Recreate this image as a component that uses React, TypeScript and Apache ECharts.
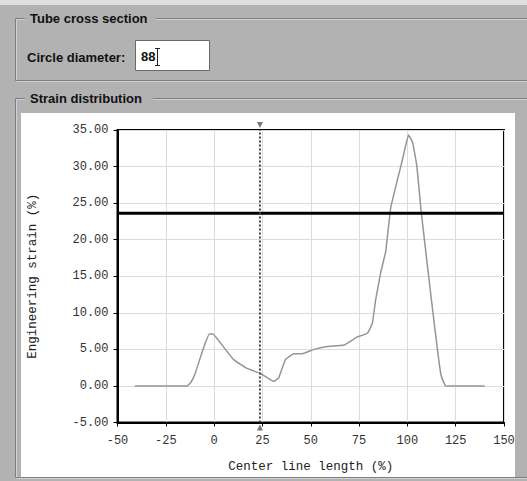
import React, { useEffect, useRef } from "react";
import * as echarts from "echarts";

const strainX = [-41, -14, -12, -9.8, -5.5, -2.4, -0.6, 3.2, 10.1, 17, 24, 30.8, 33.4, 36.9, 41.2, 45.6, 51.6, 58.6, 67.2, 74.1, 79.3, 81.9, 83.6, 86.2, 88.8, 91.4, 97.5, 100.6, 102.7, 104.9, 107, 109.6, 112.2, 115.6, 117.4, 119.9, 140];
const strainY = [0, 0, 0.5, 1.7, 5.2, 7.1, 7.1, 5.9, 3.6, 2.4, 1.7, 0.6, 1.1, 3.6, 4.4, 4.4, 5.0, 5.4, 5.6, 6.7, 7.2, 8.6, 11.8, 15.5, 18.4, 24.4, 31.0, 34.3, 33.3, 30.1, 24.2, 18.2, 12.3, 4.9, 1.5, 0, 0];
const thresholdX = [-50, 150];
const thresholdY = [23.6, 23.6];
const cursorX = [23.7, 23.7];
const cursorY = [-5, 35];
const xTicks = [-50, -25, 0, 25, 50, 75, 100, 125, 150];
const yTicks = [-5, 0, 5, 10, 15, 20, 25, 30, 35];

const MONO = "'Liberation Mono', 'DejaVu Sans Mono', monospace";
const SANS = "'Liberation Sans', 'DejaVu Sans', Arial, sans-serif";
const BG = "#b2b2b2";

export default function App() {
  const ref = useRef<HTMLDivElement>(null);
  useEffect(() => {
    document.body.style.margin = "0";
    const chart = echarts.init(ref.current!, null, { renderer: "svg" });
    const titleStyle = { fontFamily: SANS, fontWeight: "bold", fontSize: 13, fill: "#111" };
    chart.setOption({
      animation: false,
      graphic: [
        { type: "rect", z: -10, shape: { x: 0, y: 0, width: 527, height: 481 }, style: { fill: BG } },
        { type: "rect", z: -9, shape: { x: 0, y: 0, width: 527, height: 5 }, style: { fill: "#dedede" } },
        // tube cross section frame
        { type: "rect", z: -8, shape: { x: 16.5, y: 19.5, width: 530, height: 62 }, style: { fill: null, stroke: "#d2d2d2", lineWidth: 1 } },
        { type: "rect", z: -8, shape: { x: 15.5, y: 18.5, width: 530, height: 62 }, style: { fill: null, stroke: "#7e7e7e", lineWidth: 1 } },
        { type: "rect", z: -7, shape: { x: 25, y: 10, width: 131, height: 16 }, style: { fill: BG } },
        { type: "text", z: -6, style: { ...titleStyle, text: "Tube cross section", x: 30, y: 18, verticalAlign: "middle" } },
        { type: "text", z: -6, style: { ...titleStyle, text: "Circle diameter:", x: 27, y: 57, verticalAlign: "middle" } },
        { type: "rect", z: -6, shape: { x: 135.5, y: 40.5, width: 74, height: 30 }, style: { fill: "#ffffff", stroke: "#6a6a6a", lineWidth: 1 } },
        { type: "text", z: -5, style: { ...titleStyle, text: "88", x: 141, y: 56, verticalAlign: "middle" } },
        { type: "line", z: -5, shape: { x1: 157.5, y1: 48, x2: 157.5, y2: 66 }, style: { stroke: "#222", lineWidth: 1 } },
        { type: "line", z: -5, shape: { x1: 155, y1: 48.5, x2: 160, y2: 48.5 }, style: { stroke: "#222", lineWidth: 1 } },
        { type: "line", z: -5, shape: { x1: 155, y1: 65.5, x2: 160, y2: 65.5 }, style: { stroke: "#222", lineWidth: 1 } },
        // strain distribution frame
        { type: "rect", z: -8, shape: { x: 16.5, y: 99.5, width: 530, height: 379 }, style: { fill: null, stroke: "#d2d2d2", lineWidth: 1 } },
        { type: "rect", z: -8, shape: { x: 15.5, y: 98.5, width: 530, height: 379 }, style: { fill: null, stroke: "#7e7e7e", lineWidth: 1 } },
        { type: "rect", z: -7, shape: { x: 25, y: 90, width: 128, height: 16 }, style: { fill: BG } },
        { type: "text", z: -6, style: { ...titleStyle, text: "Strain distribution", x: 30, y: 98, verticalAlign: "middle" } },
        { type: "rect", z: -6, shape: { x: 21, y: 113, width: 494, height: 364 }, style: { fill: "#ffffff" } },
      ],
      grid: {
        left: 117.5, top: 130, right: 23, bottom: 58.5,
        show: true, borderColor: "#000", borderWidth: 2, backgroundColor: "transparent",
      },
      xAxis: {
        type: "value", min: xTicks[0], max: xTicks[xTicks.length - 1], interval: 25,
        name: "Center line length (%)", nameLocation: "middle", nameGap: 38,
        nameTextStyle: { fontFamily: MONO, fontSize: 12.5, color: "#222" },
        axisLine: { show: true, onZero: false, lineStyle: { color: "#000", width: 2 } },
        axisTick: { show: true, length: 4, lineStyle: { color: "#000" } },
        axisLabel: { fontFamily: MONO, fontSize: 12, color: "#333", margin: 12 },
        splitLine: { show: true, lineStyle: { color: "#dcdcdc", width: 1 } },
      },
      yAxis: {
        type: "value", min: yTicks[0], max: yTicks[yTicks.length - 1], interval: 5,
        name: "Engineering strain (%)", nameLocation: "middle", nameGap: 78,
        nameTextStyle: { fontFamily: MONO, fontSize: 12.5, color: "#222" },
        axisLine: { show: true, onZero: false, lineStyle: { color: "#000", width: 2 } },
        axisTick: { show: true, length: 4, lineStyle: { color: "#000" } },
        axisLabel: { fontFamily: MONO, fontSize: 12, color: "#333", margin: 9, formatter: (v: number) => v.toFixed(2) },
        splitLine: { show: true, lineStyle: { color: "#dcdcdc", width: 1 } },
      },
      series: [
        {
          type: "line", data: strainX.map((x, i) => [x, strainY[i]]), symbol: "none", smooth: 0.1,
          lineStyle: { color: "#959595", width: 1.5 }, z: 3,
        },
        {
          type: "line", data: thresholdX.map((x, i) => [x, thresholdY[i]]), symbol: "none",
          lineStyle: { color: "#000", width: 3 }, z: 4,
        },
        {
          type: "line", data: cursorX.map((x, i) => [x, cursorY[i]]), symbol: "none",
          lineStyle: { color: "#444", width: 2, type: [2, 2] }, z: 5,
        },
        {
          type: "scatter", data: [[cursorX[1], cursorY[1]]], symbol: "triangle", symbolSize: [6, 6],
          symbolRotate: 180, symbolOffset: [0, -5], itemStyle: { color: "#555" }, z: 6,
        },
        {
          type: "scatter", data: [[cursorX[0], cursorY[0]]], symbol: "triangle", symbolSize: [6, 6],
          symbolOffset: [0, 5], itemStyle: { color: "#555" }, z: 6,
        },
      ],
    });
    return () => chart.dispose();
  }, []);
  return <div ref={ref} style={{ position: "absolute", left: 0, top: 0, width: 527, height: 481 }} />;
}
